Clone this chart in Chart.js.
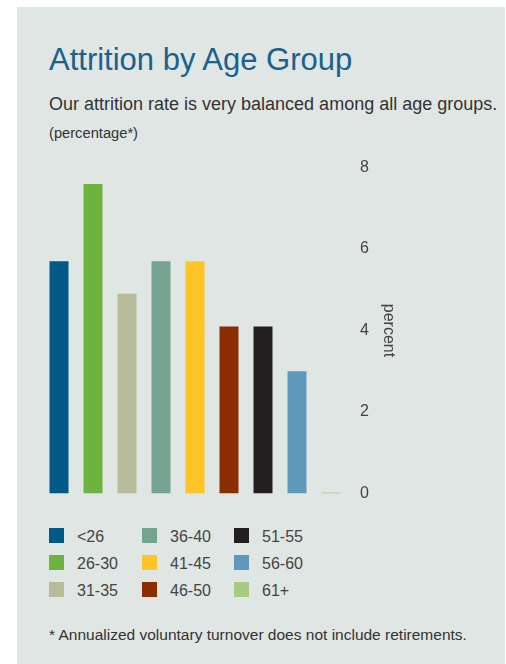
<!DOCTYPE html>
<html>
<head>
<meta charset="utf-8">
<script src="https://cdn.jsdelivr.net/npm/chart.js@4/dist/chart.umd.min.js"></script>
<style>
  html, body { margin: 0; padding: 0; background: #fff; }
  body { width: 506px; height: 664px; position: relative; overflow: hidden;
         font-family: "Liberation Sans", Arial, sans-serif; }
  .panel { position: absolute; left: 17px; top: 7px; width: 488px; height: 657px; background: #e0e6e3; }
  .title { position: absolute; left: 49px; top: 44px; font-size: 31px; line-height: 31px;
           color: #1a6190; white-space: nowrap; }
  .sub { position: absolute; left: 49px; top: 95px; font-size: 18px; line-height: 18px;
         color: #333; white-space: nowrap; }
  .unit { position: absolute; left: 49px; top: 126px; font-size: 14.7px; line-height: 14.7px;
          color: #333; white-space: nowrap; }
  .chartbox { position: absolute; left: 42px; top: 145.5px; width: 366px; height: 369px; }
  .legend { position: absolute; left: 0; top: 0; }
  .item { position: absolute; height: 15px; white-space: nowrap; }
  .item span.box { position: absolute; left: 0; top: 0; width: 15px; height: 15px; }
  .item span.lbl { position: absolute; left: 28px; top: 1px; font-size: 16px; line-height: 16px; color: #444; }
  .note { position: absolute; left: 49px; top: 627px; font-size: 15.5px; line-height: 15.5px;
          color: #333; white-space: nowrap; }
</style>
</head>
<body>
<div class="panel"></div>
<div class="title">Attrition by Age Group</div>
<div class="sub">Our attrition rate is very balanced among all age groups.</div>
<div class="unit">(percentage*)</div>
<div class="chartbox"><canvas id="mycanvas"></canvas></div>
<div class="legend" id="legend"></div>
<div class="note">* Annualized voluntary turnover does not include retirements.</div>

<script>
var ageGroups = ['<26', '26-30', '31-35', '36-40', '41-45', '46-50', '51-55', '56-60', '61+'];
var attrition = [5.7, 7.6, 4.9, 5.7, 5.7, 4.1, 4.1, 3.0, 0.02];
var barColors = ['#005a87', '#6db33f', '#b8bc9a', '#74a391', '#ffc425', '#8a2e00', '#231f20', '#5e99bb', '#a5cc82'];
var yTicks = [0, 2, 4, 6, 8];

var ctx = document.getElementById('mycanvas');

var barChart = new Chart(ctx, {
	type: 'bar',
	data: {
		labels: ageGroups,
		datasets: [
			{
				label: 'Attrition',
				data: attrition,
				backgroundColor: barColors,
				borderWidth: 0,
				categoryPercentage: 1,
				barPercentage: 19 / 34
			}
		]
	},
	options: {
		responsive: true,
		maintainAspectRatio: false,
		animation: false,
		layout: { padding: 0 },
		plugins: {
			legend: { display: false },
			tooltip: { enabled: false }
		},
		scales: {
			x: { display: false },
			y: {
				position: 'right',
				min: yTicks[0],
				max: yTicks[yTicks.length - 1],
				afterBuildTicks: function(scale) {
					scale.ticks = yTicks.map(function(v) { return { value: v }; });
				},
				afterFit: function(scale) { scale.width = 60; },
				grid: { display: false, drawTicks: false },
				border: { display: false },
				ticks: {
					padding: 12,
					color: '#444',
					font: { family: '"Liberation Sans", Arial, sans-serif', size: 16 }
				},
				title: {
					display: true,
					text: 'percent',
					color: '#444',
					padding: { top: 10.4, bottom: 0 },
					font: { family: '"Liberation Sans", Arial, sans-serif', size: 16 }
				}
			}
		}
	}
});

// legend in three columns, filled top to bottom
var legend = document.getElementById('legend');
var colX = [49, 142, 234];
for (var i = 0; i < ageGroups.length; i++) {
	var item = document.createElement('div');
	item.className = 'item';
	item.style.left = colX[Math.floor(i / 3)] + 'px';
	item.style.top = (528 + 27 * (i % 3)) + 'px';
	item.innerHTML = '<span class="box" style="background:' + barColors[i] + '"></span>' +
		'<span class="lbl"></span>';
	item.querySelector('.lbl').textContent = ageGroups[i];
	legend.appendChild(item);
}
</script>
</body>
</html>
